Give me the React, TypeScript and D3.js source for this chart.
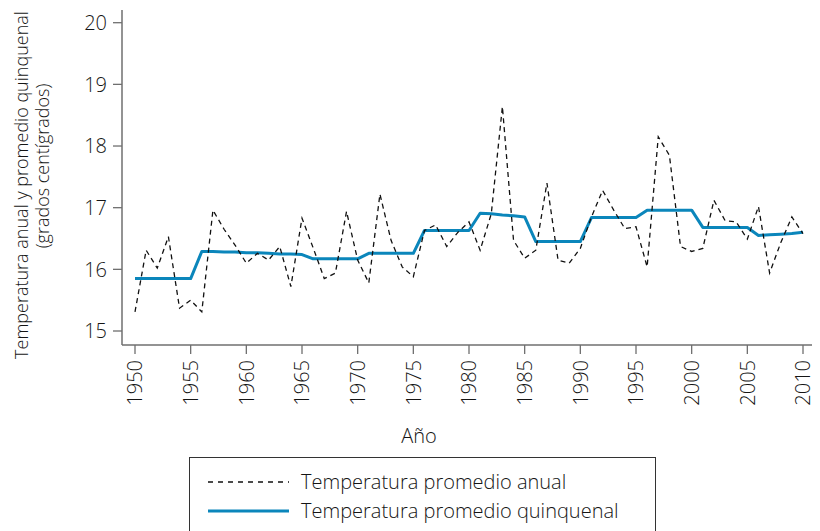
import React from "react";
import * as d3 from "d3";

const years: number[] = d3.range(1950, 2011);

const annualTemp: number[] = [
  15.31, 16.31, 16.02, 16.53, 15.37, 15.5, 15.31, 16.96, 16.65, 16.39,
  16.1, 16.26, 16.15, 16.37, 15.72, 16.83, 16.35, 15.85, 15.94, 16.94,
  16.15, 15.78, 17.22, 16.47, 16.04, 15.88, 16.63, 16.72, 16.37, 16.6,
  16.77, 16.31, 16.9, 18.64, 16.47, 16.18, 16.31, 17.4, 16.15, 16.1,
  16.34, 16.85, 17.28, 16.96, 16.66, 16.69, 16.04, 18.15, 17.85, 16.37,
  16.29, 16.34, 17.12, 16.79, 16.77, 16.49, 17.02, 15.94, 16.43, 16.85,
  16.58,
];

const fiveYearTemp: number[] = [
  15.85, 15.85, 15.85, 15.85, 15.85, 15.85, 16.29, 16.29, 16.28, 16.28,
  16.27, 16.27, 16.26, 16.25, 16.25, 16.24, 16.17, 16.17, 16.17, 16.17,
  16.17, 16.26, 16.26, 16.26, 16.26, 16.26, 16.63, 16.63, 16.63, 16.63,
  16.63, 16.91, 16.9, 16.88, 16.87, 16.85, 16.45, 16.45, 16.45, 16.45,
  16.45, 16.84, 16.84, 16.84, 16.84, 16.84, 16.96, 16.96, 16.96, 16.96,
  16.96, 16.68, 16.68, 16.68, 16.68, 16.68, 16.55, 16.56, 16.57, 16.58,
  16.6,
];

const xTickYears: number[] = [1950, 1955, 1960, 1965, 1970, 1975, 1980, 1985, 1990, 1995, 2000, 2005, 2010];
const xTickLabels: string[] = ["1950", "1955", "1960", "1965", "1970", "1975", "1980", "1985", "1990", "1995", "2000", "2005", "2010"];
const yTicks: number[] = [15, 16, 17, 18, 19, 20];

const yTitle1 = "Temperatura anual y promedio quinquenal";
const yTitle2 = "(grados centígrados)";
const xTitle = "Año";
const legendLabels: string[] = ["Temperatura promedio anual", "Temperatura promedio quinquenal"];

const FONT = "'Open Sans', 'Noto Sans', sans-serif";
const TEXT = "#151515";
const AXIS = "#6f6f6f";
const BLUE = "#0b86bb";

export default function App() {
  const W = 820;
  const H = 531;
  const x = d3.scaleLinear().domain([1950, 2010]).range([135, 803]);
  const y = d3.scaleLinear().domain([15, 20]).range([331, 22.7]);
  const axisLeft = 122;
  const axisBottom = 345;

  const line = d3
    .line<number>()
    .x((_, i) => x(years[i]))
    .y((d) => y(d));

  return (
    <svg
      width={W}
      height={H}
      style={{ position: "absolute", left: 0, top: 0, background: "#fff" }}
      fontFamily={FONT}
    >
      {/* axes */}
      <line x1={axisLeft} x2={axisLeft} y1={10} y2={axisBottom} stroke={AXIS} strokeWidth={1.5} />
      <line x1={axisLeft} x2={812} y1={axisBottom} y2={axisBottom} stroke={AXIS} strokeWidth={1.5} />

      {yTicks.map((t) => (
        <g key={t}>
          <line x1={113} x2={axisLeft} y1={y(t)} y2={y(t)} stroke={AXIS} strokeWidth={1.3} />
          <text
            x={107}
            y={y(t)}
            dy="0.36em"
            textAnchor="end"
            fontSize={20}
            fontWeight={300}
            fill={TEXT}
          >
            {t}
          </text>
        </g>
      ))}

      {xTickYears.map((t, i) => (
        <g key={t}>
          <line x1={x(t)} x2={x(t)} y1={axisBottom} y2={354} stroke={AXIS} strokeWidth={1.3} />
          <text
            transform={`translate(${x(t)},360) rotate(-90)`}
            dy="0.36em"
            textAnchor="end"
            fontSize={20}
            fontWeight={300}
            fill={TEXT}
          >
            {xTickLabels[i]}
          </text>
        </g>
      ))}

      {/* titles */}
      <text
        transform="translate(28,185) rotate(-90)"
        textAnchor="middle"
        fontSize={18}
        fontWeight={300}
        fill={TEXT}
      >
        {yTitle1}
      </text>
      <text
        transform="translate(49,166) rotate(-90)"
        textAnchor="middle"
        fontSize={18}
        fontWeight={300}
        fill={TEXT}
      >
        {yTitle2}
      </text>
      <text x={419} y={443} textAnchor="middle" fontSize={20} fontWeight={300} fill={TEXT}>
        {xTitle}
      </text>

      {/* series */}
      <path
        d={line(fiveYearTemp) || ""}
        fill="none"
        stroke={BLUE}
        strokeWidth={3}
        strokeLinejoin="round"
      />
      <path
        d={line(annualTemp) || ""}
        fill="none"
        stroke="#111"
        strokeWidth={1.3}
        strokeDasharray="5,4"
      />

      {/* legend */}
      <rect x={189.5} y={457.5} width={466} height={90} fill="none" stroke="#333" strokeWidth={1} />
      <line x1={208} x2={289} y1={482} y2={482} stroke="#111" strokeWidth={1.3} strokeDasharray="5,5" />
      <line x1={208} x2={289} y1={511} y2={511} stroke={BLUE} strokeWidth={3} />
      <text x={301} y={482} dy="0.36em" fontSize={20} fontWeight={300} fill={TEXT}>
        {legendLabels[0]}
      </text>
      <text x={301} y={511} dy="0.36em" fontSize={20} fontWeight={300} fill={TEXT}>
        {legendLabels[1]}
      </text>
    </svg>
  );
}
